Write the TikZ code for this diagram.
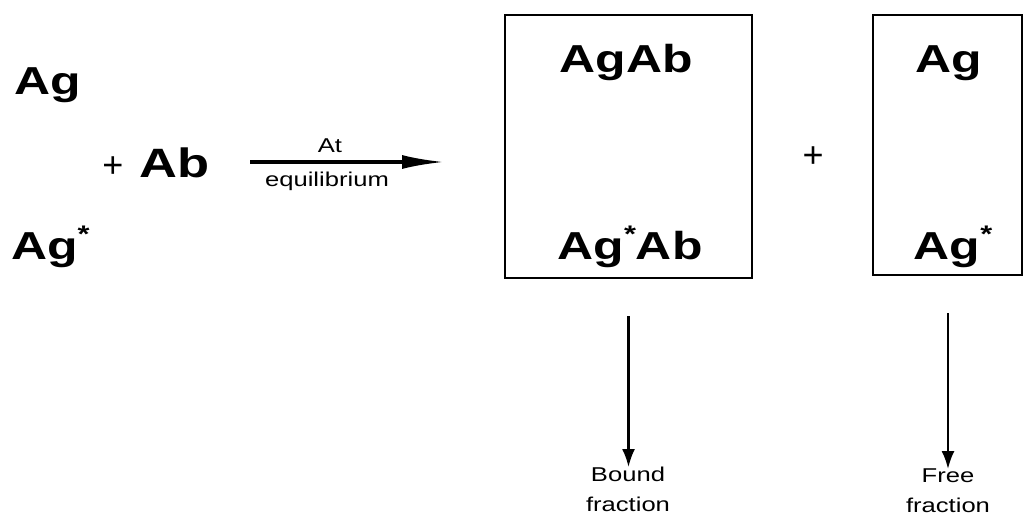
\documentclass[tikz,border=0pt]{standalone}
\usepackage{fontspec}
\setmainfont{Liberation Sans}
\newfontfamily\widefont[FakeStretch=1.28]{Liberation Sans}
\usetikzlibrary{arrows.meta}
\newcommand{\st}{\raisebox{0.42em}{\fontsize{24}{24}\selectfont *}}
\begin{document}
\begin{tikzpicture}[x=1pt,y=-1pt,
  big/.style={font=\widefont\fontsize{39}{42}\selectfont\bfseries, inner sep=0pt, anchor=base},
  small/.style={font=\widefont\fontsize{20}{30}\selectfont, inner sep=0pt, align=center},
  box/.style={draw, line width=2pt, inner sep=0pt},
  thinplus/.style={font=\fontsize{36}{40}\selectfont, inner sep=0pt},
  downarrow/.style={line width=2.2pt, -{Latex[length=18pt,width=13pt]}}
]
\useasboundingbox (0,0) rectangle (1024,525);
% left side
\node[big, anchor=base west] (ag1) at (14,94) {Ag};
\node[thinplus] (plus1) at (113,167) {+};
\node[big, anchor=base west, font=\widefont\fontsize{41}{44}\selectfont\bfseries] (ab) at (139,177) {Ab};
\node[big, anchor=base west] (ag2) at (11,259) {Ag\st};
% equilibrium arrow
\coordinate (eqs) at (250,162);
\coordinate (eqe) at (444,162);
\draw[line width=3.2pt, -{Latex[length=42pt,width=14pt]}] (eqs) -- (eqe);
\node[small, anchor=base] (at) at (330,152) {At};
\node[small, anchor=base] (equ) at (327,186) {equilibrium};
% boxes
\node[box, minimum width=247pt, minimum height=263pt] (box1) at (628.5,146.5) {};
\node[box, minimum width=149pt, minimum height=260pt] (box2) at (947.5,145) {};
\node[big] (agab) at (626,72) {AgAb};
\node[big] (agsab) at (630,259) {Ag\st Ab};
\node[big] (agf) at (949,72) {Ag};
\node[big] (agsf) at (953,259) {Ag\st};
\node[thinplus] (plus) at (813,157) {+};
% fractions
\node[small, anchor=north] (bound) at (628,467) {Bound\\fraction};
\node[small, anchor=north] (free) at (948,469) {Free\\fraction};
\draw[downarrow] ([yshift=-37pt]box1.south) -- (box1.south |- bound.north);
\draw[downarrow] ([yshift=-37pt]box2.south -| free.north) -- (free.north);
\end{tikzpicture}
\end{document}
